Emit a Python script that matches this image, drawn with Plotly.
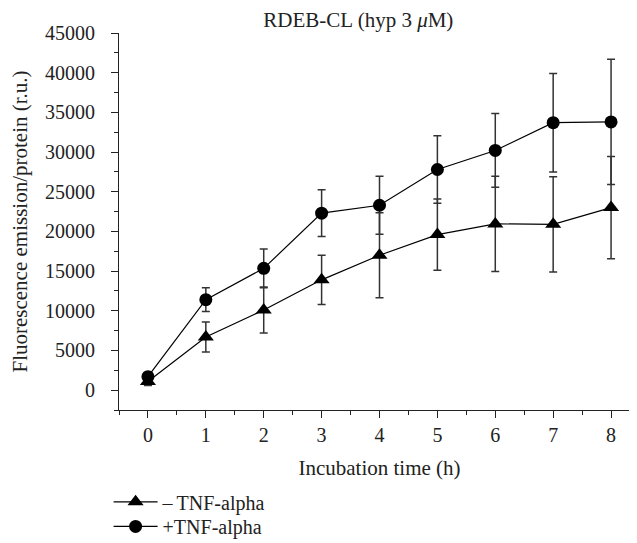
import plotly.graph_objects as go

hours = [0, 1, 2, 3, 4, 5, 6, 7, 8]
minus_tnf = [1100, 6700, 10100, 13900, 17000, 19600, 20950, 20900, 23000]
minus_tnf_err = [500, 1900, 2900, 3100, 5350, 4500, 6000, 6000, 6450]
plus_tnf = [1700, 11400, 15350, 22300, 23300, 27800, 30200, 33700, 33800]
plus_tnf_err = [400, 1500, 2450, 2950, 3650, 4250, 4650, 6200, 7900]
y_ticks = [0, 5000, 10000, 15000, 20000, 25000, 30000, 35000, 40000, 45000]
y_ticktext = [str(v) for v in y_ticks]

FONT = "Liberation Serif"
TXT = "#222222"

fig = go.Figure()
fig.add_trace(go.Scatter(
    x=hours, y=minus_tnf, name="\u2013\u2009TNF-alpha", mode="lines+markers",
    line=dict(color="black", width=1.2),
    marker=dict(symbol="triangle-up", size=14, color="black"),
    error_y=dict(type="data", array=minus_tnf_err, visible=True,
                 color="#333333", thickness=1.5, width=4),
    legend="legend",
))
fig.add_trace(go.Scatter(
    x=hours, y=plus_tnf, name="+TNF-alpha", mode="lines+markers",
    line=dict(color="black", width=1.2),
    marker=dict(symbol="circle", size=13, color="black"),
    error_y=dict(type="data", array=plus_tnf_err, visible=True,
                 color="#333333", thickness=1.5, width=4),
    legend="legend2",
))

leg_common = dict(xanchor="left", yanchor="middle", orientation="v",
                  font=dict(family=FONT, size=20, color=TXT),
                  bgcolor="rgba(0,0,0,0)", itemwidth=44)

fig.update_layout(
    width=637, height=543,
    margin=dict(l=111, r=5, t=25, b=136),
    plot_bgcolor="white", paper_bgcolor="white",
    font=dict(family=FONT, size=20, color=TXT),
    title=dict(text="RDEB-CL (hyp 3 <i>\u03bc</i>M)", x=0.55, xanchor="center",
               y=0.978, yanchor="middle", font=dict(family=FONT, size=21, color=TXT)),
    showlegend=True,
    legend=dict(x=-0.02, y=-0.2435, **leg_common),
    legend2=dict(x=-0.02, y=-0.3089, **leg_common),
    xaxis=dict(range=[-0.5, 8.5], tickmode="array", tickvals=hours,
               automargin=False,
               showline=True, linecolor=TXT, linewidth=1.2,
               ticks="outside", ticklen=7, tickwidth=1.2, tickcolor=TXT,
               tickfont=dict(size=20), ticklabelstandoff=0,
               minor=dict(tickvals=[i + 0.5 for i in range(-1, 9)], ticks="outside",
                          ticklen=4, tickwidth=1.2, tickcolor=TXT),
               showgrid=False, zeroline=False,
               title=dict(text="Incubation time (h)", standoff=15, font=dict(size=21))),
    yaxis=dict(range=[-2500, 45000], tickmode="array",
               tickvals=y_ticks, ticktext=y_ticktext,
               automargin=False,
               showline=True, linecolor=TXT, linewidth=1.2,
               ticks="outside", ticklen=7, tickwidth=1.2, tickcolor=TXT,
               tickfont=dict(size=20), ticklabelstandoff=12,
               minor=dict(tickvals=list(range(-2500, 45001, 2500)), ticks="outside",
                          ticklen=4, tickwidth=1.2, tickcolor=TXT),
               showgrid=False, zeroline=False,
               title=dict(text="Fluorescence emission/protein (r.u.)", standoff=12,
                          font=dict(size=21))),
)

fig.write_html("out.html")
